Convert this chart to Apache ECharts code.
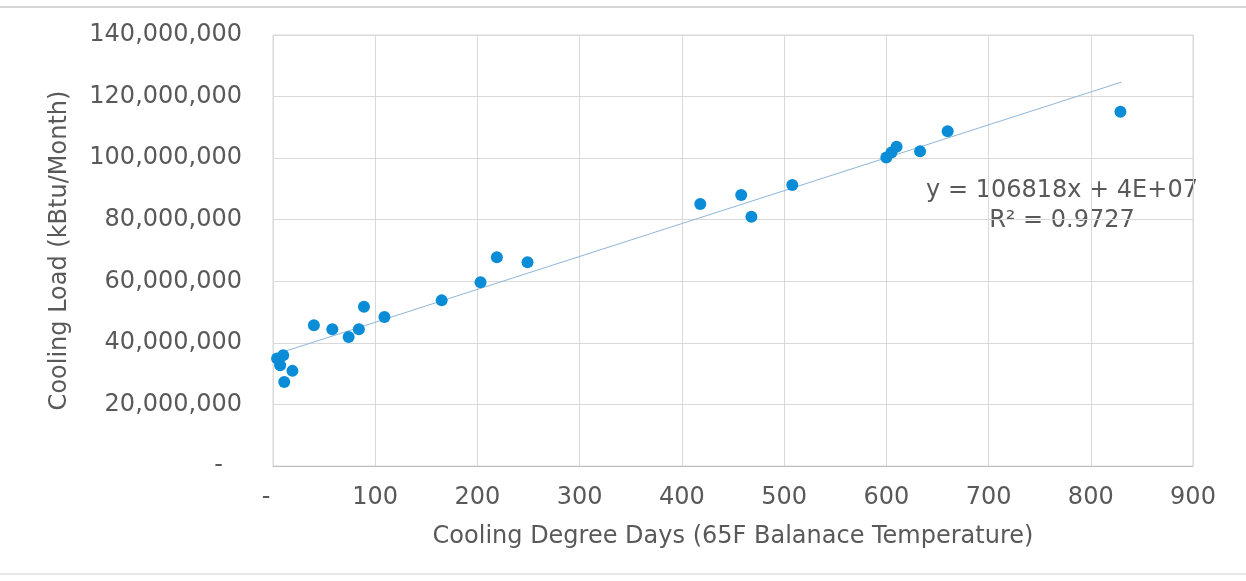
<!DOCTYPE html>
<html>
<head>
<meta charset="utf-8">
<script src="https://cdn.jsdelivr.net/npm/echarts@6/dist/echarts.min.js"></script>
<style>
html,body{margin:0;padding:0;background:#fff;}
#chart{width:1246px;height:581px;}
</style>
</head>
<body>
<div id="chart"></div>
<script>
// Cooling Degree Days (x) and Cooling Load in kBtu/Month (y)
const cdd = [4, 10, 7, 19, 11, 40, 58, 74, 84, 89, 109, 165, 203, 219, 249, 418, 458, 468, 508, 600, 605, 610, 633, 660, 829];
const load = [34.9e6, 36.0e6, 32.7e6, 30.9e6, 27.3e6, 45.7e6, 44.4e6, 41.9e6, 44.4e6, 51.7e6, 48.4e6, 53.8e6, 59.7e6, 67.8e6, 66.2e6, 85.1e6, 88.0e6, 81.0e6, 91.3e6, 100.2e6, 101.8e6, 103.7e6, 102.2e6, 108.7e6, 115.1e6];
// Linear trendline endpoints as drawn
const trendX = [0, 830];
const trendY = [36.0e6, 124.7e6];
const xTicks = [0, 100, 200, 300, 400, 500, 600, 700, 800, 900];
const yTicks = [0, 20e6, 40e6, 60e6, 80e6, 100e6, 120e6, 140e6];
const eqLine1 = 'y = 106818x + 4E+07';
const eqLine2 = 'R² = 0.9727';
const xTitle = 'Cooling Degree Days (65F Balanace Temperature)';
const yTitle = 'Cooling Load (kBtu/Month)';

const FONT = 'DejaVu Sans';
const FS = 24;
const TXT = '#595959';
const chart = echarts.init(document.getElementById('chart'), null, {renderer: 'canvas'});

chart.setOption({
  backgroundColor: '#ffffff',
  animation: false,
  grid: {left: 273, right: 53, top: 35, bottom: 115, show: true, borderColor: '#D9D9D9', borderWidth: 1},
  xAxis: {
    type: 'value', min: xTicks[0], max: xTicks[xTicks.length - 1], interval: 100,
    name: xTitle, nameLocation: 'middle', nameGap: 59,
    nameTextStyle: {fontFamily: FONT, fontSize: FS, color: TXT},
    axisLine: {show: true, lineStyle: {color: '#BFBFBF', width: 1}},
    axisTick: {show: false},
    axisLabel: {
      fontFamily: FONT, fontSize: FS, color: TXT, margin: 20,
      formatter: v => v === 0 ? '{d|-}' : String(v),
      rich: {d: {fontFamily: FONT, fontSize: FS, color: TXT, padding: [0, 14, 0, 0]}}
    },
    splitLine: {show: true, lineStyle: {color: '#D9D9D9', width: 1}}
  },
  yAxis: {
    type: 'value', min: yTicks[0], max: yTicks[yTicks.length - 1], interval: 20e6,
    name: yTitle, nameLocation: 'middle', nameGap: 201, nameRotate: 90,
    nameTextStyle: {fontFamily: FONT, fontSize: FS, color: TXT},
    axisLine: {show: true, lineStyle: {color: '#D9D9D9', width: 1}},
    axisTick: {show: false},
    axisLabel: {
      fontFamily: FONT, fontSize: FS, color: TXT, margin: 31,
      formatter: v => v === 0 ? '{d|-}' : v.toLocaleString('en-US'),
      rich: {d: {fontFamily: FONT, fontSize: FS, color: TXT, padding: [0, 19, 0, 0]}}
    },
    splitLine: {show: true, lineStyle: {color: '#D9D9D9', width: 1}}
  },
  series: [
    {
      type: 'line', data: trendX.map((x, i) => [x, trendY[i]]),
      showSymbol: false, symbol: 'none',
      lineStyle: {color: '#8FB6D8', width: 1}, z: 3, silent: true
    },
    {
      type: 'scatter', data: cdd.map((x, i) => [x, load[i]]),
      symbol: 'circle', symbolSize: 12,
      itemStyle: {color: '#0A8CD6', opacity: 1}, z: 4
    }
  ],
  graphic: [
    {type: 'rect', x: 0, y: 6, shape: {width: 1246, height: 2}, style: {fill: '#D6D6D6'}, silent: true},
    {type: 'rect', x: 0, y: 573, shape: {width: 1246, height: 2}, style: {fill: '#E6E6E6'}, silent: true},
    {type: 'text', x: 1062, y: 176, style: {text: eqLine1 + '\n' + eqLine2, font: FS + 'px "DejaVu Sans"', fill: TXT, align: 'center', verticalAlign: 'top', lineHeight: 30}, silent: true}
  ]
});
</script>
</body>
</html>
